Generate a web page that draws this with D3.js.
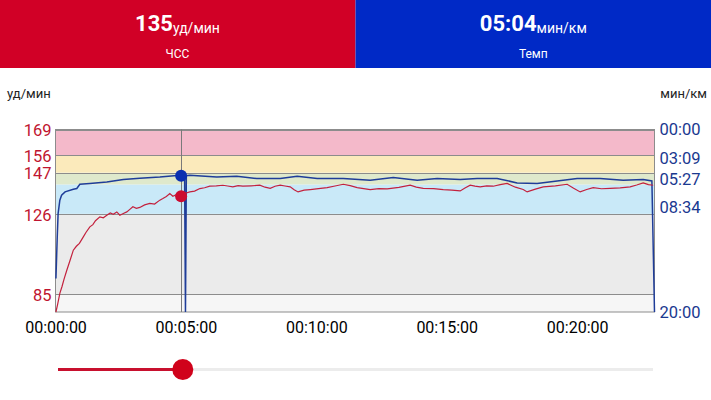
<!DOCTYPE html>
<html lang='ru'>
<head>
<meta charset='utf-8'>
<title>ЧСС и темп</title>
<script src='https://d3js.org/d3.v7.min.js'></script>
<style>
  body { margin: 0; background: #fff; }
  svg { display: block; font-family: Roboto, 'Noto Sans', sans-serif; }
  .tick line { display: none; }
</style>
</head>
<body>
<script>
// time in seconds, HR in bpm
var hrTime = [1, 5, 10, 15, 20, 26, 33, 41, 48, 55, 64, 70, 79, 86, 92, 102, 110, 118, 126, 133, 141, 148, 156, 164,
  171, 178, 186, 194, 205, 217, 228, 240, 247, 255, 263, 270, 278, 286,
  297, 309, 320, 332, 343, 355, 370, 385, 396, 408, 420, 431, 450, 470, 482, 494, 505, 517, 528, 540, 549, 558, 572, 586,
  605, 625, 643, 662, 678, 694, 709, 724, 744, 763, 790, 816, 830, 846, 870, 892, 912, 931, 942, 954, 965, 977, 992, 1007,
  1023, 1039, 1058, 1076, 1085, 1104, 1122, 1150, 1177, 1192, 1207, 1222, 1237, 1256, 1276, 1299, 1322, 1337, 1352, 1364, 1375];
var hrValue = [76, 80, 85.5, 89, 93, 97.3, 102, 107.5, 109.5, 111, 114.3, 116.5, 119.4, 120.5, 122.5, 124.5, 124, 125.3, 126.5, 125.8, 127, 125.3, 126.2, 127,
  128.3, 129.6, 128.8, 129.3, 130.6, 131.3, 131, 133, 133.8, 134.9, 136.4, 135, 135.8, 135.5,
  136.4, 137.2, 137.6, 138.9, 139.3, 140.1, 140.3, 140.6, 140.2, 139.8, 140.4, 140.1, 140.3, 140.6, 139.6, 139, 140.1, 140.6, 140.2, 139.8, 138.3, 137.2, 138.1, 138.4,
  138.9, 139.4, 140.2, 141.1, 140.4, 139.4, 138.9, 138.4, 138.9, 138.7, 139.5, 140.6, 139.6, 139, 138.9, 138.4, 138.1, 137.7, 139.2, 140.6, 140.1, 139.8, 140.3, 140.1,
  140.9, 141.5, 139.6, 138.4, 137.2, 138.6, 139.8, 140.3, 141.1, 139.1, 137.2, 138.4, 139.4, 138.8, 139, 139.3, 139.8, 140.7, 141.8, 140.9, 140.6];

// pace in seconds per km
var paceTime = [1, 4, 6, 10, 14, 22, 41, 49, 56, 79, 118, 156, 194, 240, 286, 297, 299, 301, 309, 371, 417,
  463, 494, 517, 556, 602, 662, 724, 777, 832, 878, 931, 970, 1016, 1062, 1108, 1154, 1200, 1253,
  1306, 1352, 1372, 1378];
var paceValue = [980, 707, 553, 465, 432, 410, 393, 388, 360, 355, 345, 329, 320, 312, 301, 304, 1200, 304, 301, 312, 307,
  322, 322, 322, 307, 322, 322, 333, 316, 333, 322, 329, 322, 322, 351, 355, 338, 322, 322,
  333, 329, 338, 1200];

var hrZones = [76, 85, 126, 141, 147, 156, 169];
var zoneColors = ['#f6f6f6', '#ebebeb', '#c9e9f8', '#dfe9cc', '#fbeabb', '#f4b9ca'];
var hrTicks = [85, 126, 147, 156, 169];
var paceTicks = [0, 189, 327, 514, 1200];
var timeTicks = [0, 300, 600, 900, 1200];
var cursorTime = 289;
var cursorHr = 135;
var cursorPace = 304;
var totalTime = 1378;

var W = 711, H = 400;
var svg = d3.select('body').append('svg').attr('width', W).attr('height', H);

// header
var header = svg.append('g');
header.append('rect').attr('x', 0).attr('y', 0).attr('width', 355.5).attr('height', 68).attr('fill', '#d10026');
header.append('rect').attr('x', 355.5).attr('y', 0).attr('width', 355.5).attr('height', 68).attr('fill', '#0029c6');

var t1 = header.append('text').attr('x', 177.5).attr('y', 31).attr('text-anchor', 'middle').attr('fill', '#fff');
t1.append('tspan').attr('font-size', 22).attr('font-weight', 'bold').text(cursorHr);
t1.append('tspan').attr('font-size', 14).attr('dy', 2).text('уд/мин');
header.append('text').attr('x', 177.5).attr('y', 57.5).attr('text-anchor', 'middle')
  .attr('fill', '#fff').attr('font-size', 12).text('ЧСС');

var paceFmt = function(s) {
  return d3.format('02')(Math.floor(s / 60)) + ':' + d3.format('02')(Math.round(s % 60));
};
var t2 = header.append('text').attr('x', 533.3).attr('y', 31).attr('text-anchor', 'middle').attr('fill', '#fff');
t2.append('tspan').attr('font-size', 22).attr('font-weight', 'bold').text(paceFmt(cursorPace));
t2.append('tspan').attr('font-size', 14).attr('dy', 2).text('мин/км');
header.append('text').attr('x', 533.3).attr('y', 57.5).attr('text-anchor', 'middle')
  .attr('fill', '#fff').attr('font-size', 12).text('Темп');

// scales
var pLeft = 55.5, pRight = 654.5, pTop = 129.5, pBottom = 312;
var x = d3.scaleLinear().domain([0, totalTime]).range([pLeft, pRight]);
var yHr = d3.scaleLinear().domain([hrZones[0], hrZones[hrZones.length - 1]]).range([pBottom, pTop]);
var yPace = d3.scaleLinear().domain([0, 1200]).range([pTop, pBottom]);

// zones
svg.append('g').selectAll('rect')
  .data(zoneColors)
  .enter()
  .append('rect')
  .attr('x', pLeft)
  .attr('width', pRight - pLeft)
  .attr('y', function(d, i) { return yHr(hrZones[i + 1]); })
  .attr('height', function(d, i) { return yHr(hrZones[i]) - yHr(hrZones[i + 1]); })
  .attr('fill', function(d) { return d; });

// grid lines
svg.append('g').selectAll('line')
  .data(hrTicks)
  .enter()
  .append('line')
  .attr('x1', pLeft).attr('x2', pRight)
  .attr('y1', function(d) { return Math.round(yHr(d)) + 0.5; })
  .attr('y2', function(d) { return Math.round(yHr(d)) + 0.5; })
  .attr('stroke', '#8c8c8c').attr('stroke-width', 1);

svg.append('rect').attr('x', pLeft).attr('y', pTop).attr('width', pRight - pLeft).attr('height', pBottom - pTop)
  .attr('fill', 'none').attr('stroke', '#8c8c8c').attr('stroke-width', 1);

// axes
var yAxisL = d3.axisLeft(yHr).tickValues(hrTicks).tickSize(0).tickPadding(4);
svg.append('g').attr('transform', 'translate(' + pLeft + ',1)').call(yAxisL)
  .call(function(g) { g.select('.domain').remove(); })
  .selectAll('text').attr('font-size', 16.5).attr('fill', '#bf1530').attr('font-family', 'Roboto');

var yAxisR = d3.axisRight(yPace).tickValues(paceTicks).tickSize(0).tickPadding(5).tickFormat(paceFmt);
svg.append('g').attr('transform', 'translate(' + pRight + ',0)').call(yAxisR)
  .call(function(g) { g.select('.domain').remove(); })
  .selectAll('text').attr('font-size', 16.5).attr('fill', '#1a3990').attr('font-family', 'Roboto');

var xAxis = d3.axisBottom(x).tickValues(timeTicks).tickSize(0).tickPadding(10)
  .tickFormat(function(s) { return '00:' + paceFmt(s); });
svg.append('g').attr('transform', 'translate(0,' + pBottom + ')').call(xAxis)
  .call(function(g) { g.select('.domain').remove(); })
  .selectAll('text').attr('font-size', 16).attr('fill', '#000').attr('font-family', 'Roboto');

svg.append('text').attr('x', 7).attr('y', 98).attr('font-size', 13).attr('fill', '#222').text('уд/мин');
svg.append('text').attr('x', 707).attr('y', 98).attr('text-anchor', 'end').attr('font-size', 13)
  .attr('fill', '#222').text('мин/км');

// lines
var hrLine = d3.line()
  .x(function(d, i) { return x(hrTime[i]); })
  .y(function(d) { return yHr(d); });
var paceLine = d3.line()
  .x(function(d, i) { return x(paceTime[i]); })
  .y(function(d) { return yPace(d); });

svg.append('path').datum(paceValue).attr('d', paceLine)
  .attr('fill', 'none').attr('stroke', '#1f3d99').attr('stroke-width', 1.5);
svg.append('path').datum(hrValue).attr('d', hrLine)
  .attr('fill', 'none').attr('stroke', '#c3213d').attr('stroke-width', 1.2);

// cursor
svg.append('line')
  .attr('x1', Math.round(x(cursorTime)) + 0.5).attr('x2', Math.round(x(cursorTime)) + 0.5)
  .attr('y1', pTop).attr('y2', pBottom)
  .attr('stroke', '#7a7a7a').attr('stroke-width', 1);
svg.append('circle').attr('cx', x(cursorTime)).attr('cy', yPace(cursorPace)).attr('r', 6).attr('fill', '#0a2fb0');
svg.append('circle').attr('cx', x(cursorTime)).attr('cy', yHr(cursorHr)).attr('r', 6).attr('fill', '#cc0a2f');

// slider
var s = d3.scaleLinear().domain([0, totalTime]).range([58, 653]);
svg.append('line').attr('x1', s(0)).attr('x2', s(totalTime)).attr('y1', 369.5).attr('y2', 369.5)
  .attr('stroke', '#ececec').attr('stroke-width', 3);
svg.append('line').attr('x1', s(0)).attr('x2', s(cursorTime)).attr('y1', 369.5).attr('y2', 369.5)
  .attr('stroke', '#c8102e').attr('stroke-width', 3);
svg.append('circle').attr('cx', s(cursorTime)).attr('cy', 369.5).attr('r', 10.5).attr('fill', '#d0021b');
</script>
</body>
</html>
